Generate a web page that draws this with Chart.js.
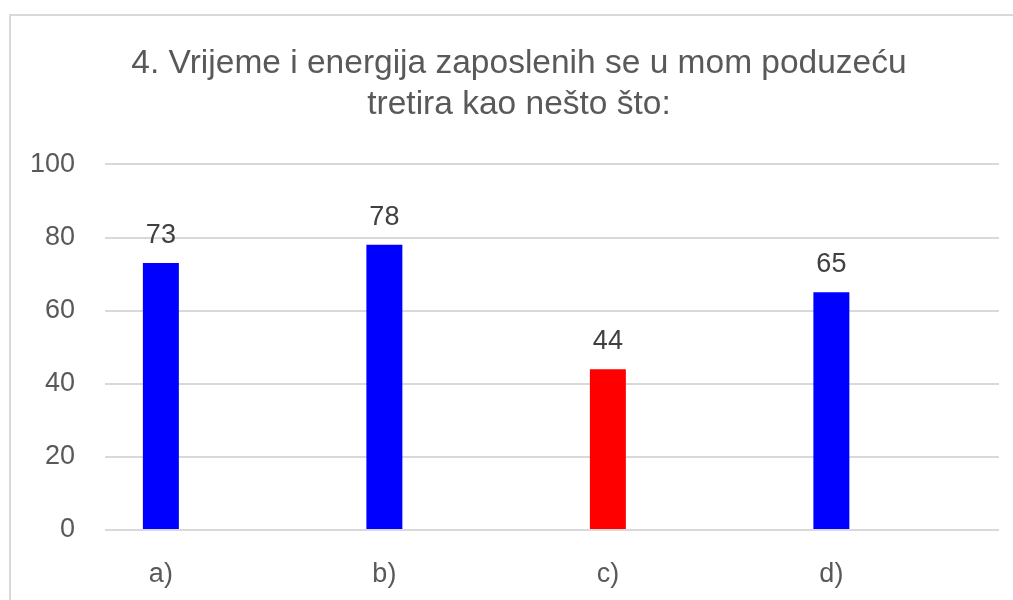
<!DOCTYPE html>
<html>
<head>
<meta charset="utf-8">
<script src="https://cdn.jsdelivr.net/npm/chart.js@4"></script>
<style>
  html, body { margin: 0; padding: 0; background: #fff; overflow: hidden; width: 1013px; height: 600px; }
  #box { position: absolute; left: 9px; top: 14px; width: 1016px; height: 600px; border: 2px solid #d9d9d9; background: #fff; }
  canvas { display: block; }
</style>
</head>
<body>
<div id="box"><canvas id="chart" width="1016" height="600"></canvas></div>
<script>
// chart data
const titleLines = ["4. Vrijeme i energija zaposlenih se u mom poduzeću", "tretira kao nešto što:"];
const categories = ["a)", "b)", "c)", "d)"];
const values = [73, 78, 44, 65];
const barColors = ["#0000ff", "#0000ff", "#ff0000", "#0000ff"];
const yTicks = [0, 20, 40, 60, 80, 100];

const FONT = "'Liberation Sans', Arial, sans-serif";

// value labels above each bar
const valueLabels = {
  id: "valueLabels",
  afterDatasetsDraw(chart) {
    const ctx = chart.ctx;
    const meta = chart.getDatasetMeta(0);
    ctx.save();
    ctx.font = "27px " + FONT;
    ctx.fillStyle = "#404040";
    ctx.textAlign = "center";
    ctx.textBaseline = "alphabetic";
    meta.data.forEach((bar, i) => {
      ctx.fillText(String(values[i]), bar.x, bar.y - 20);
    });
    ctx.restore();
  },
};

new Chart(document.getElementById("chart"), {
  type: "bar",
  data: {
    datasets: [{
      data: categories.map((c, i) => ({ x: i, y: values[i] })),
      backgroundColor: barColors,
      borderWidth: 0,
      categoryPercentage: 1,
      barPercentage: 0.161,
    }],
  },
  options: {
    responsive: false,
    animation: false,
    layout: { padding: 0 },
    plugins: {
      legend: { display: false },
      tooltip: { enabled: false },
      title: {
        display: true,
        text: titleLines,
        color: "#595959",
        font: { family: FONT, size: 33.5, weight: "normal", lineHeight: 1.2 },
        padding: { top: 28, bottom: 40 },
      },
    },
    scales: {
      x: {
        type: "linear",
        offset: false,
        min: -0.25,
        max: 3.75,
        afterBuildTicks: (s) => { s.ticks = categories.map((c, i) => ({ value: i })); },
        afterFit: (s) => { s.height = 86; },
        grid: { display: false, drawTicks: false },
        border: { display: false },
        ticks: {
          callback: (v) => categories[v],
          color: "#595959",
          font: { family: FONT, size: 27 },
          padding: 28,
          maxRotation: 0,
        },
      },
      y: {
        min: 0,
        max: 100,
        afterBuildTicks: (s) => { s.ticks = yTicks.map((v) => ({ value: v })); },
        afterFit: (s) => { s.width = 94; },
        grid: { color: "#d9d9d9", lineWidth: 2, drawTicks: false },
        border: { display: false },
        ticks: {
          color: "#595959",
          font: { family: FONT, size: 27 },
          padding: 30,
        },
      },
      // empty right margin so the title stays centred on the whole box
      yRight: {
        position: "right",
        min: 0,
        max: 100,
        afterFit: (s) => { s.width = 28; },
        grid: { display: false, drawTicks: false },
        border: { display: false },
        ticks: { display: false },
      },
    },
  },
  plugins: [valueLabels],
});
</script>
</body>
</html>
